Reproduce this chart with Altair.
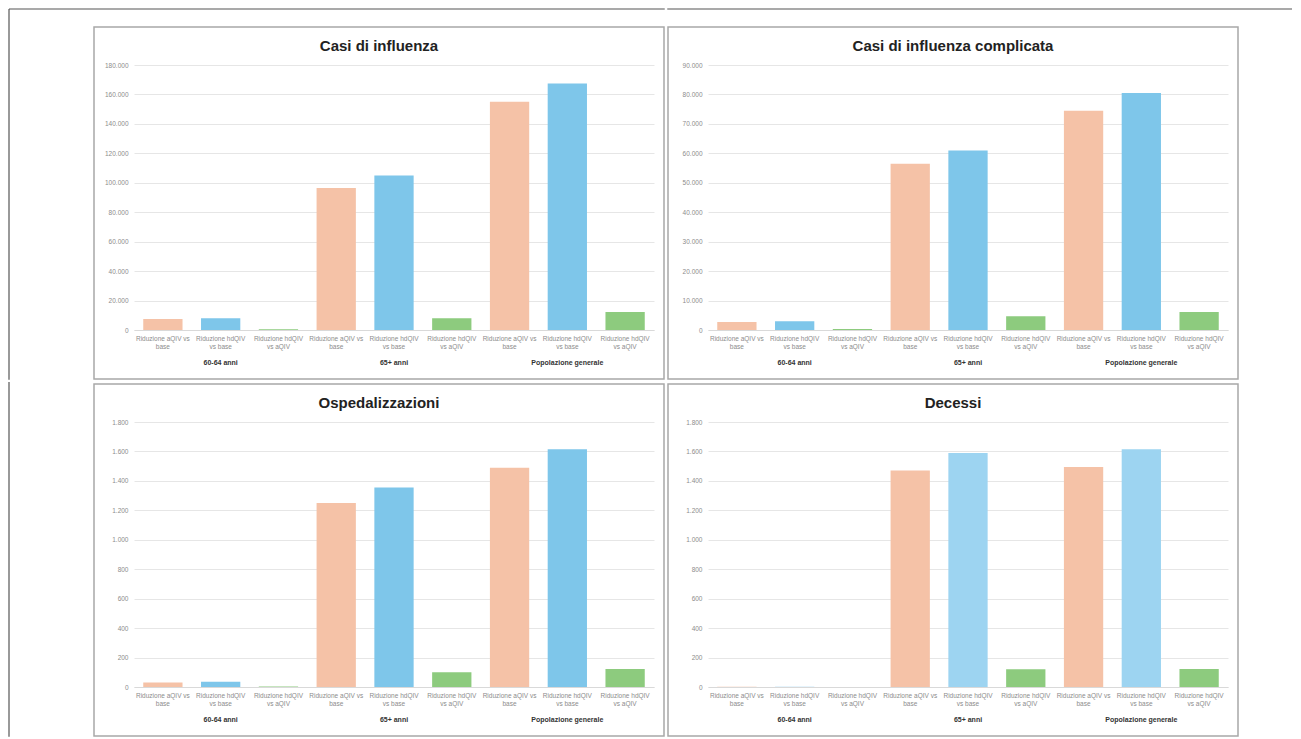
import altair as alt
import pandas as pd

# ---------------- data ----------------
groups = ["60-64 anni", "65+ anni", "Popolazione generale"]
series = ["Riduzione aQIV vs base", "Riduzione hdQIV vs base", "Riduzione hdQIV vs aQIV"]
label_lines = [["Riduzione aQIV vs", "base"], ["Riduzione hdQIV", "vs base"], ["Riduzione hdQIV", "vs aQIV"]]

casi_influenza = [7500, 8000, 500, 96500, 105000, 8000, 155000, 167500, 12200]
casi_complicata = [2700, 3000, 300, 56500, 61000, 4700, 74500, 80500, 6100]
ospedalizzazioni = [30, 35, 3, 1250, 1355, 100, 1490, 1615, 122]
decessi = [2, 2, 0, 1470, 1590, 120, 1495, 1615, 122]

titles = ["Casi di influenza", "Casi di influenza complicata", "Ospedalizzazioni", "Decessi"]
y_max = [180000, 90000, 1800, 1800]
y_step = [20000, 10000, 200, 200]

SALMON = "#F5C2A7"
BLUE = "#7EC6EA"
BLUE_LIGHT = "#9DD4F1"
GREEN = "#8DCB7E"

# ---------------- layout constants ----------------
W, H = 520, 265
FL, FR, FT, FB = -40, 530, -38, H + 49
FONT = "Liberation Sans"

keys = []
key_series = []
key_group = []
for gi, g in enumerate(groups):
    for si, s in enumerate(series):
        keys.append(f"{gi}{si}|{label_lines[si][0]}|{label_lines[si][1]}")
        key_series.append(s)
        key_group.append(g)

mid_keys = [keys[gi * 3 + 1] for gi in range(len(groups))]


def panel(idx, values, blue, outer_top=False, outer_left=False, outer_right_to=None):
    df = pd.DataFrame({"key": keys, "serie": key_series, "gruppo": key_group, "value": values})
    one = pd.DataFrame({"a": [0]})

    xenc = alt.X(
        "key:N",
        sort=keys,
        scale=alt.Scale(paddingInner=0.32, paddingOuter=0.16),
        axis=alt.Axis(
            title=None,
            labelAngle=0,
            labelExpr="slice(split(datum.label, '|'), 1)",
            labelFont=FONT,
            labelFontSize=6.5,
            labelColor="#8C8C8C",
            labelLineHeight=8,
            labelPadding=5,
            labelOverlap=False,
            labelLimit=80,
            ticks=False,
            domainColor="#D9D9D9",
            grid=False,
        ),
    )
    yenc = alt.Y(
        "value:Q",
        scale=alt.Scale(domain=[0, y_max[idx]], nice=False),
        axis=alt.Axis(
            title=None,
            values=list(range(0, y_max[idx] + 1, y_step[idx])),
            labelExpr="replace(format(datum.value, ','), ',', '.')",
            labelFont=FONT,
            labelFontSize=6.5,
            labelColor="#8C8C8C",
            labelPadding=6,
            ticks=False,
            domain=False,
            gridColor="#E6E6E6",
            gridWidth=1,
        ),
    )

    bars = alt.Chart(df).mark_bar().encode(
        x=xenc,
        y=yenc,
        color=alt.Color("serie:N", scale=alt.Scale(domain=series, range=[SALMON, blue, GREEN]), legend=None),
    )

    gdf = pd.DataFrame({"key": mid_keys, "gruppo": groups})
    glabels = alt.Chart(gdf).mark_text(
        font=FONT, fontSize=7, fontWeight="bold", color="#333333", baseline="middle"
    ).encode(x=alt.X("key:N", sort=keys), y=alt.value(H + 33), text="gruppo:N")

    title = alt.Chart(one).mark_text(
        font=FONT, fontSize=15, fontWeight="bold", color="#222222", baseline="middle"
    ).encode(x=alt.value((FL + FR) / 2), y=alt.value(-19), text=alt.value(titles[idx]))

    frame = alt.Chart(one).mark_rect(fillOpacity=0, stroke="#A8A8A8", strokeWidth=1.5).encode(
        x=alt.value(FL), x2=alt.value(FR), y=alt.value(FT), y2=alt.value(FB)
    )

    layers = [frame, bars, glabels, title]
    if outer_top:
        x_start = -125 if outer_left else FL - 0.75
        x_end = outer_right_to if outer_right_to is not None else FR + 0.75
        layers.append(
            alt.Chart(one).mark_rule(color="#555555", strokeWidth=1.2).encode(
                x=alt.value(x_start), x2=alt.value(x_end), y=alt.value(-56)
            )
        )
    if outer_left:
        layers.append(
            alt.Chart(one).mark_rule(color="#555555", strokeWidth=1.2).encode(
                x=alt.value(-125), y=alt.value(-56 if outer_top else FT - 2), y2=alt.value(FB + 0.75)
            )
        )
    return alt.layer(*layers).properties(width=W, height=H)


p1 = panel(0, casi_influenza, BLUE, outer_top=True, outer_left=True)
p2 = panel(1, casi_complicata, BLUE, outer_top=True, outer_right_to=584)
p3 = panel(2, ospedalizzazioni, BLUE, outer_left=True)
p4 = panel(3, decessi, BLUE_LIGHT)

chart = (
    alt.concat(p1, p2, p3, p4, columns=2, spacing=0)
    .properties(padding={"left": 0, "top": 0, "right": 0, "bottom": 0}, background="white")
    .configure_view(stroke=None)
    .resolve_scale(x="independent", y="independent", color="independent")
)

chart.save("out.html", embed_options={"renderer": "svg", "actions": False})
